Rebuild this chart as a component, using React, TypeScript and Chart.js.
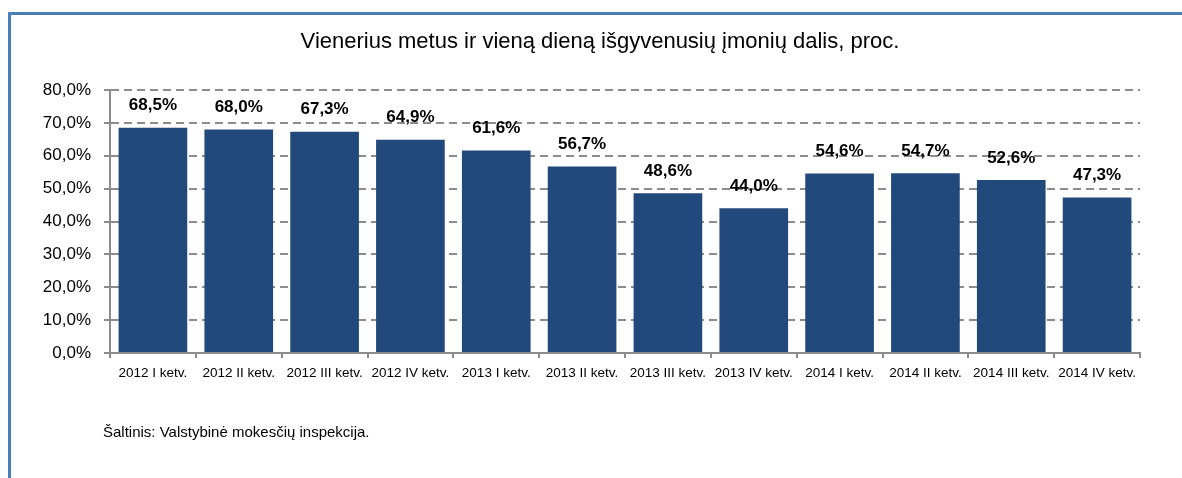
import React, { useEffect, useRef } from "react";
import { Chart, registerables } from "chart.js";

Chart.register(...registerables);

const categories = [
  "2012 I ketv.", "2012 II ketv.", "2012 III ketv.", "2012 IV ketv.",
  "2013 I ketv.", "2013 II ketv.", "2013 III ketv.", "2013 IV ketv.",
  "2014 I ketv.", "2014 II ketv.", "2014 III ketv.", "2014 IV ketv.",
];
const shareValues = [68.5, 68.0, 67.3, 64.9, 61.6, 56.7, 48.6, 44.0, 54.6, 54.7, 52.6, 47.3];
const yTicks = [0, 10, 20, 30, 40, 50, 60, 70, 80];
const titleText = "Vienerius metus ir vieną dieną išgyvenusių įmonių dalis, proc.";
const sourceText = "Šaltinis: Valstybinė mokesčių inspekcija.";

const FONT = "'Liberation Sans', Arial, sans-serif";
const fmt = (v: number) => v.toFixed(1).replace(".", ",") + "%";

const decorPlugin = {
  id: "decor",
  beforeDraw(chart: any) {
    const ctx = chart.ctx;
    ctx.save();
    ctx.fillStyle = "#ffffff";
    ctx.fillRect(0, 0, chart.width, chart.height);
    ctx.fillStyle = "#4a7ebb";
    ctx.fillRect(8, 12, chart.width - 8, 3);
    ctx.fillRect(8, 12, 3, chart.height - 12);
    ctx.fillStyle = "#000";
    ctx.font = `22px ${FONT}`;
    ctx.textAlign = "center";
    ctx.textBaseline = "middle";
    ctx.fillText(titleText, 600, 42);
    ctx.font = `15px ${FONT}`;
    ctx.textAlign = "left";
    ctx.fillText(sourceText, 103, 433);
    ctx.restore();
  },
  afterDatasetsDraw(chart: any) {
    const ctx = chart.ctx;
    const meta = chart.getDatasetMeta(0);
    ctx.save();
    ctx.fillStyle = "#000";
    ctx.font = `bold 17px ${FONT}`;
    ctx.textAlign = "center";
    ctx.textBaseline = "middle";
    meta.data.forEach((bar: any, i: number) => {
      ctx.fillText(fmt(shareValues[i]), bar.x, bar.y - 22);
    });
    ctx.restore();
  },
};

export default function App() {
  const ref = useRef<HTMLCanvasElement>(null);
  useEffect(() => {
    if (!ref.current) return;
    const chart = new Chart(ref.current, {
      type: "bar",
      data: {
        labels: categories,
        datasets: [
          {
            data: shareValues,
            backgroundColor: "#22497c",
            categoryPercentage: 1,
            barPercentage: 0.8,
          },
        ],
      },
      options: {
        animation: false,
        responsive: false,
        layout: { padding: { top: 90, left: 0, right: 42, bottom: 0 } },
        plugins: { legend: { display: false }, title: { display: false }, tooltip: { enabled: false } },
        scales: {
          x: {
            afterFit: (s: any) => { s.height = 125; },
            grid: {
              offset: true,
              drawOnChartArea: false,
              drawTicks: true,
              tickLength: 5,
              color: "#8c8c8c",
              lineWidth: 2,
            },
            border: { display: true, color: "#8c8c8c", width: 2 },
            ticks: {
              color: "#000",
              font: { family: FONT, size: 13.5 },
              padding: 7,
              maxRotation: 0,
              autoSkip: false,
            },
          },
          y: {
            min: 0,
            max: 80,
            afterFit: (s: any) => { s.width = 110; },
            afterBuildTicks: (s: any) => { s.ticks = yTicks.map((v) => ({ value: v })); },
            grid: {
              color: "#8c8c8c",
              lineWidth: 2,
              drawTicks: true,
              tickLength: 6,
              tickBorderDash: [],
            },
            border: { display: true, color: "#8c8c8c", width: 2, dash: [8, 5] },
            ticks: {
              color: "#000",
              font: { family: FONT, size: 17 },
              padding: 13,
              callback: (v: any) => fmt(Number(v)),
            },
          },
        },
      },
      plugins: [decorPlugin],
    });
    return () => chart.destroy();
  }, []);
  return (
    <canvas
      ref={ref}
      width={1182}
      height={478}
      style={{ position: "fixed", left: 0, top: 0, width: 1182, height: 478 }}
    />
  );
}
